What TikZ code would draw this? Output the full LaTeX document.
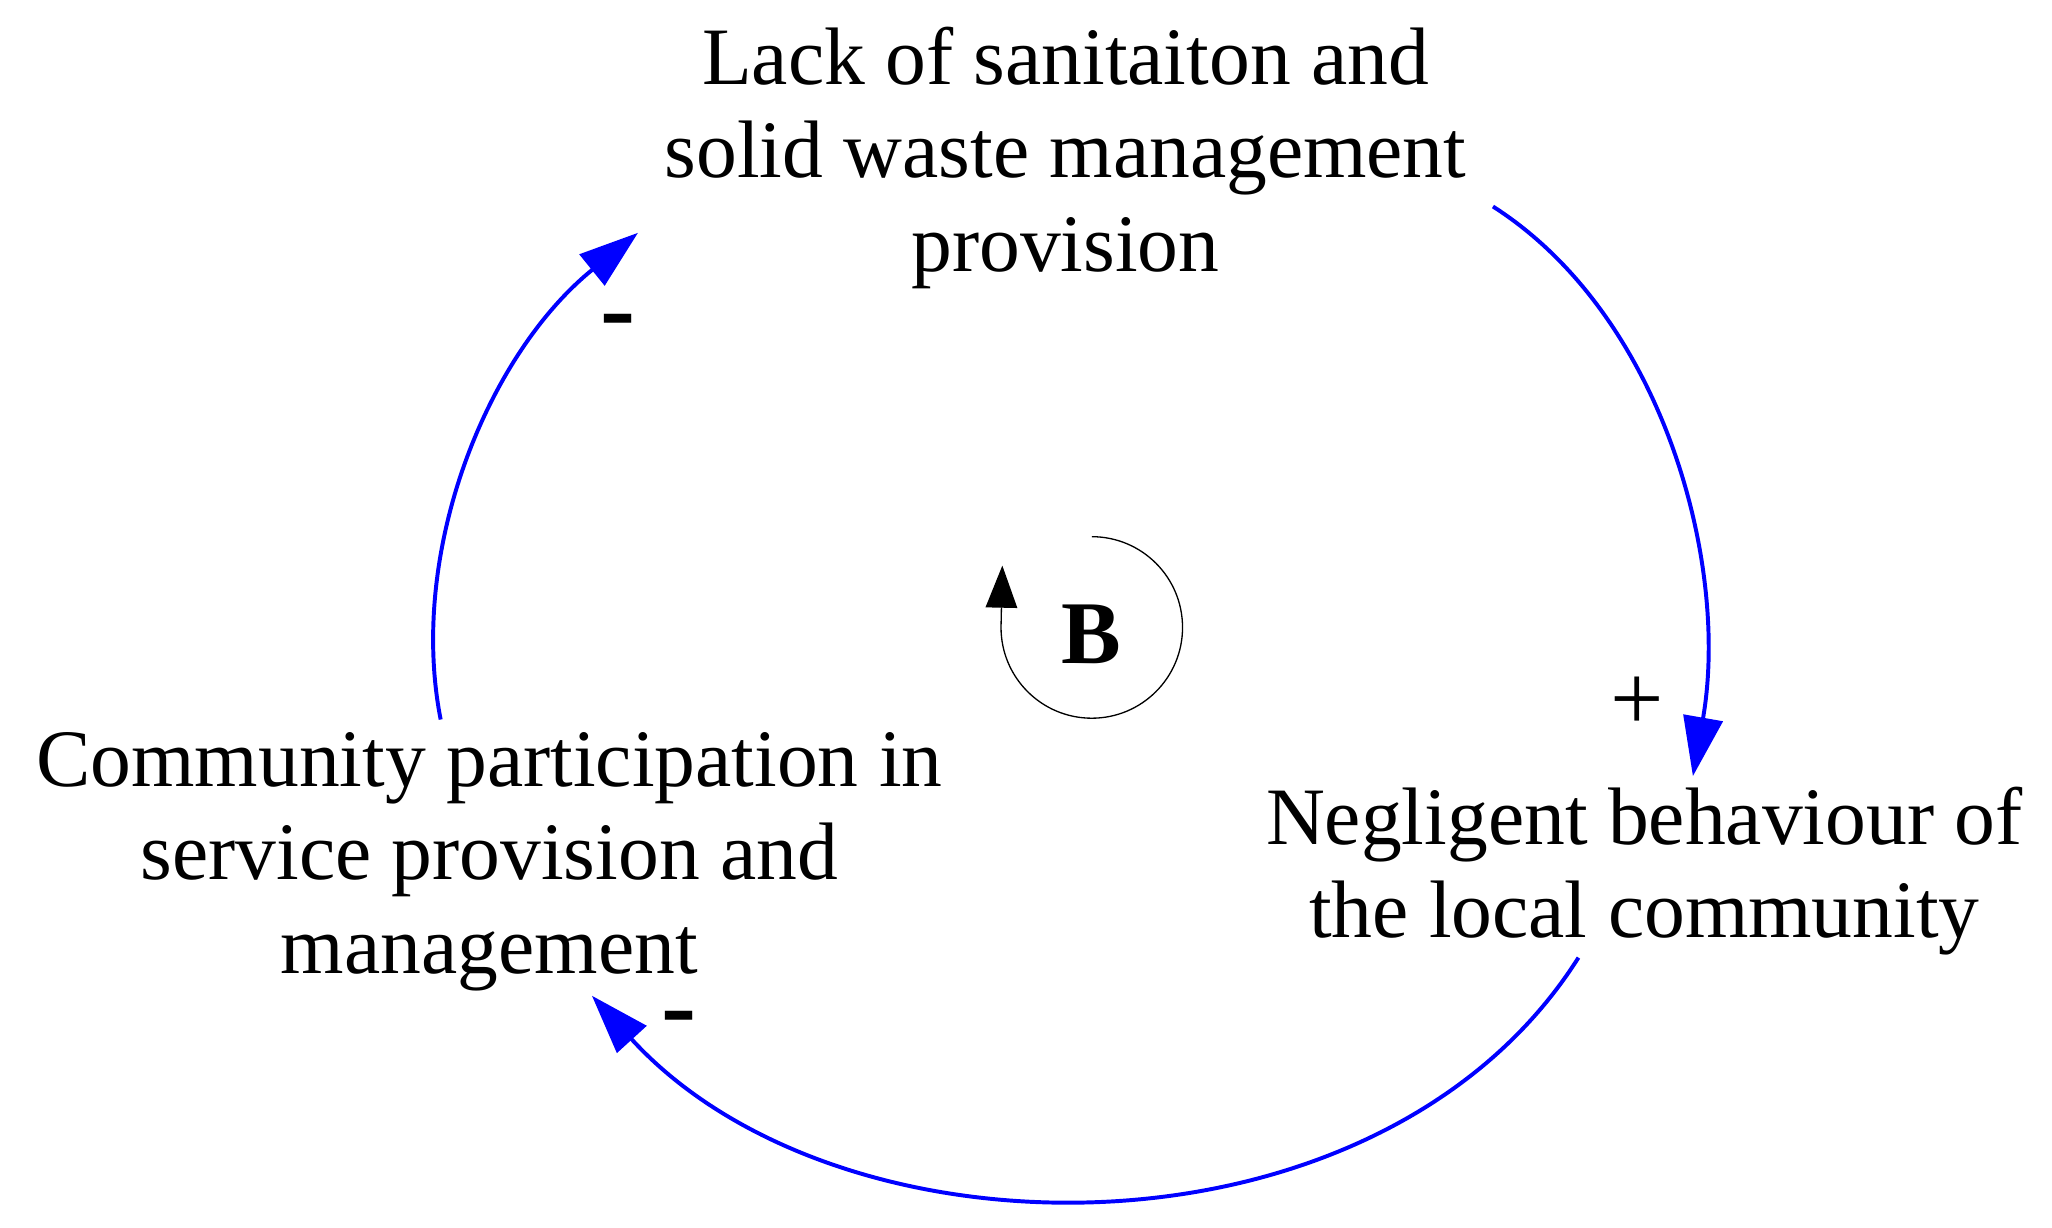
\documentclass[tikz,border=0pt]{standalone}
\usepackage{fontspec}
\setmainfont{Liberation Serif}
\usetikzlibrary{arrows.meta}
\begin{document}
\begin{tikzpicture}[x=1pt,y=-1pt,
  lbl/.style={align=center,font=\fontsize{62}{71}\selectfont,inner sep=0pt},
  link/.style={blue,line width=3pt,-{Triangle[length=45pt,width=30pt]}},
  sign/.style={font=\fontsize{80}{80}\selectfont\bfseries,inner sep=0pt}]
\useasboundingbox (0,0) rectangle (1560,933);
\node[lbl] (top) at (810,120) {Lack of sanitaiton and\\solid waste management\\provision};
\node[lbl] (right) at (1250,662) {Negligent behaviour of\\the local community};
\node[lbl] (left) at (372,655) {Community participation in\\service provision and\\management};
\coordinate (a1) at (1135,157); \coordinate (a2) at (1287,590);
\coordinate (b1) at (1200,728); \coordinate (b2) at (450,757);
\coordinate (c1) at (335,547); \coordinate (c2) at (485,177);
\draw[link] (a1) .. controls (1265,240) and (1315,430) .. (a2);
\draw[link] (b1) .. controls (1050,965) and (640,965) .. (b2);
\draw[link] (c1) .. controls (310,420) and (370,270) .. (c2);
\node[font=\fontsize{72}{72}\selectfont] (plus) at (1245,535) {+};
\node[sign] (m1) at (470,250) {-};
\node[sign] (m2) at (516,780) {-};
\node[font=\fontsize{68}{68}\selectfont\bfseries] (B) at (830,482) {B};
\coordinate (ls) at (830,408);
\coordinate (le) at (762,430);
\draw[line width=1pt,-{Triangle[length=32pt,width=24pt]}] (ls) arc[start angle=-90,end angle=180,radius=69] -- (le);
\end{tikzpicture}
\end{document}
